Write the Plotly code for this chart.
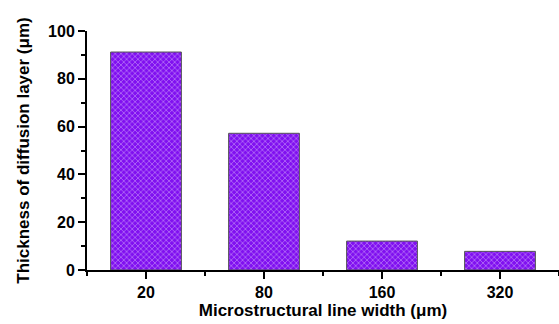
import plotly.graph_objects as go

categories = ["20", "80", "160", "320"]
thickness = [91.2, 57.2, 12.1, 7.8]

x_pos = list(range(len(categories)))

fig = go.Figure()
fig.add_trace(go.Bar(
    x=x_pos, y=thickness, width=0.6,
    marker=dict(
        color="#8010F0",
        line=dict(color="#555555", width=1),
        pattern=dict(shape="x", fgcolor="white", bgcolor="#8010F0", size=4, solidity=0.3),
    ),
))

font_main = "Liberation Sans, Arial, sans-serif"
fig.update_layout(
    width=559, height=324,
    margin=dict(l=87, r=0, t=31, b=54),
    plot_bgcolor="white", paper_bgcolor="white",
    showlegend=False,
    font=dict(family=font_main, size=16, color="black"),
)
fig.update_xaxes(
    range=[-0.5, 3.5],
    tickmode="array", tickvals=x_pos, ticktext=categories,
    ticks="outside", ticklen=7, tickwidth=2, tickcolor="black",
    showline=True, linecolor="black", linewidth=2,
    showgrid=False, zeroline=False,
    minor=dict(tickmode="array", tickvals=[-0.5, 0.5, 1.5, 2.5, 3.5], ticks="outside", ticklen=4, tickwidth=2, tickcolor="black"),
    tickfont=dict(family=font_main, size=16, color="black", weight="bold"),
    title=dict(text="<b>Microstructural line width (μm)</b>", font=dict(family=font_main, size=17), standoff=4),
)
fig.update_yaxes(
    range=[0, 100],
    tick0=0, dtick=20,
    ticks="outside", ticklen=7, tickwidth=2, tickcolor="black",
    showline=True, linecolor="black", linewidth=2,
    showgrid=False, zeroline=False,
    minor=dict(tick0=0, dtick=10, ticks="outside", ticklen=4, tickwidth=2, tickcolor="black"),
    tickfont=dict(family=font_main, size=16, color="black", weight="bold"),
    title=dict(text="<b>Thickness of diffusion layer (μm)</b>", font=dict(family=font_main, size=17), standoff=14),
)

fig.write_html("out.html")
